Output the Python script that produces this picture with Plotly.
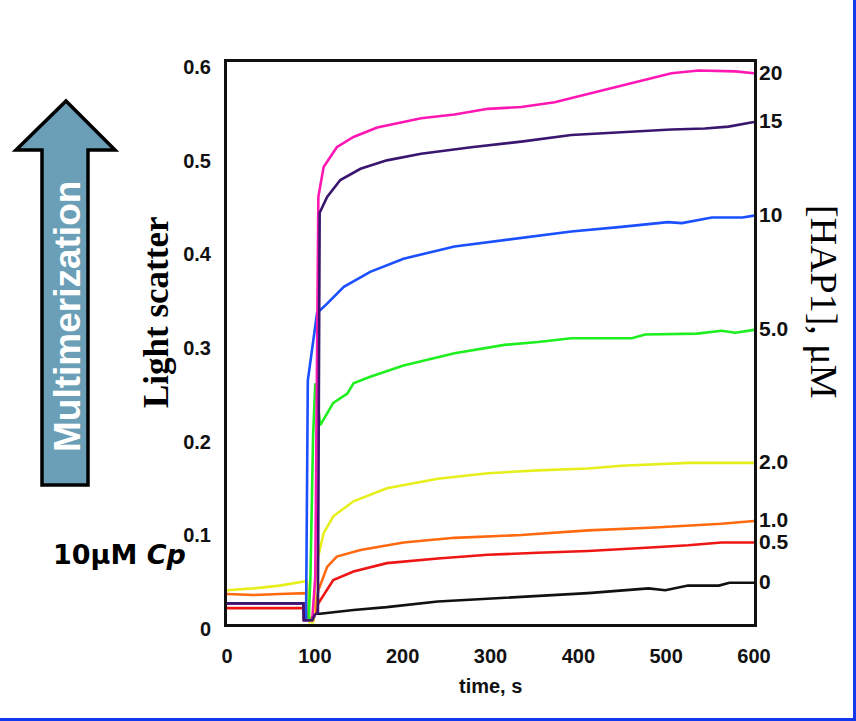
import plotly.graph_objects as go

# ---------------- data ----------------
conc_labels = ["0", "0.5", "1.0", "2.0", "5.0", "10", "15", "20"]
colors = ["#111111", "#ee1515", "#ff6a10", "#e6ef1c", "#1eef1e", "#1a50ff", "#3a1670", "#ff17b4"]

t_0 = [0, 87, 87.5, 95, 100, 106, 144, 182, 240, 297, 335, 354, 411, 480, 499, 525, 560, 572, 600]
v_0 = [0.022, 0.022, 0.005, 0.005, 0.011, 0.011, 0.015, 0.018, 0.024, 0.027, 0.029, 0.030, 0.033, 0.038, 0.036, 0.041, 0.041, 0.044, 0.044]

t_05 = [0, 90, 93, 98, 104, 114, 121, 144, 182, 240, 297, 354, 411, 487, 525, 563, 600]
v_05 = [0.017, 0.017, 0.004, 0.004, 0.022, 0.036, 0.047, 0.056, 0.065, 0.070, 0.074, 0.076, 0.078, 0.082, 0.084, 0.087, 0.087]

t_1 = [0, 30, 60, 90, 93, 98, 104, 114, 125, 152, 201, 259, 335, 411, 487, 563, 600]
v_1 = [0.032, 0.031, 0.032, 0.033, 0.004, 0.004, 0.036, 0.061, 0.072, 0.079, 0.087, 0.092, 0.095, 0.100, 0.103, 0.107, 0.110]

t_2 = [0, 30, 60, 91, 94, 98, 102, 110, 121, 144, 182, 240, 297, 354, 411, 449, 525, 600]
v_2 = [0.036, 0.038, 0.041, 0.046, 0.002, 0.002, 0.065, 0.097, 0.115, 0.131, 0.145, 0.155, 0.161, 0.164, 0.166, 0.169, 0.172, 0.172]

t_5 = [0, 87, 88, 93, 95, 98, 100.5, 103, 106, 121, 137, 144, 163, 201, 259, 316, 354, 392, 461, 476, 535, 563, 579, 600]
v_5 = [0.022, 0.022, 0.004, 0.004, 0.05, 0.2, 0.257, 0.24, 0.212, 0.236, 0.246, 0.257, 0.264, 0.276, 0.289, 0.298, 0.301, 0.305, 0.305, 0.309, 0.310, 0.313, 0.311, 0.314]

t_10 = [0, 87, 88, 90, 92, 102.5, 114, 133, 163, 201, 259, 316, 354, 392, 449, 502, 518, 552, 587, 600]
v_10 = [0.022, 0.022, 0.004, 0.004, 0.26, 0.332, 0.342, 0.360, 0.376, 0.390, 0.403, 0.410, 0.415, 0.419, 0.424, 0.429, 0.428, 0.434, 0.434, 0.436]

t_15 = [0, 87, 87.5, 97, 100, 103.5, 105.5, 114, 129, 152, 182, 221, 278, 335, 392, 449, 506, 544, 571, 600]
v_15 = [0.022, 0.022, 0.004, 0.004, 0.010, 0.012, 0.439, 0.456, 0.474, 0.486, 0.495, 0.502, 0.509, 0.515, 0.522, 0.525, 0.528, 0.529, 0.531, 0.536]

t_20 = [0, 87, 87.5, 97, 100.5, 102.5, 104, 110, 125, 144, 171, 221, 259, 297, 335, 373, 411, 449, 487, 506, 537, 579, 600]
v_20 = [0.022, 0.022, 0.004, 0.004, 0.05, 0.30, 0.456, 0.488, 0.509, 0.520, 0.530, 0.540, 0.544, 0.550, 0.552, 0.557, 0.566, 0.575, 0.584, 0.588, 0.591, 0.590, 0.588]

times = [t_0, t_05, t_1, t_2, t_5, t_10, t_15, t_20]
values = [v_0, v_05, v_1, v_2, v_5, v_10, v_15, v_20]

y_ticks = [0, 0.1, 0.2, 0.3, 0.4, 0.5, 0.6]
y_ticktext = ["0", "0.1", "0.2", "0.3", "0.4", "0.5", "0.6"]
x_ticks = [0, 100, 200, 300, 400, 500, 600]

# ---------------- layout geometry ----------------
W, H = 856, 721
L, R, T, B = 227, 754, 62, 624  # plot area in pixels


def px(x):
    return (x - L) / (R - L)


def py(y):
    return (B - y) / (B - T)


fig = go.Figure()
draw_order = [0, 1, 2, 3, 4, 5, 7, 6]
for i in draw_order:
    fig.add_trace(go.Scatter(x=times[i], y=values[i], mode="lines",
                             line=dict(color=colors[i], width=2.6),
                             showlegend=False, hoverinfo="skip"))

# right-hand concentration labels at curve ends
for i, lab in enumerate(conc_labels):
    fig.add_annotation(x=1, xref="paper", y=values[i][-1], yref="y",
                       text=lab, showarrow=False, xanchor="left", yanchor="middle",
                       xshift=3, yshift=1,
                       font=dict(family="Liberation Sans", size=21, color="#111", weight="bold"))

# axis-ish titles
fig.add_annotation(x=px(490), y=py(686), xref="paper", yref="paper", text="time, s",
                   showarrow=False, xanchor="center", yanchor="middle",
                   font=dict(family="Liberation Sans", size=20, color="#111", weight="bold"))
fig.add_annotation(x=px(156), y=py(313), xref="paper", yref="paper", text="Light scatter",
                   showarrow=False, textangle=-90, xanchor="center", yanchor="middle",
                   font=dict(family="Liberation Serif", size=35, color="#000", weight="bold"))
fig.add_annotation(x=px(824), y=py(302), xref="paper", yref="paper", text="[HAP1], μM",
                   showarrow=False, textangle=90, xanchor="center", yanchor="middle",
                   font=dict(family="Liberation Serif", size=38, color="#000"))
fig.add_annotation(x=px(188), y=py(554), xref="paper", yref="paper", text="10μM <i>Cp</i>",
                   showarrow=False, xanchor="right", yanchor="middle",
                   font=dict(family="DejaVu Sans", size=27, color="#000", weight="bold"))

# arrow
pts = [(66, 101), (115, 150), (88, 150), (88, 485), (42, 485), (42, 150), (16, 150)]
path = "M " + " L ".join(f"{px(a):.5f},{py(b):.5f}" for a, b in pts) + " Z"
fig.add_shape(type="path", path=path, xref="paper", yref="paper",
              fillcolor="#6a9fb7", line=dict(color="#000", width=3.5))
fig.add_annotation(x=px(67), y=py(317), xref="paper", yref="paper", text="Multimerization",
                   showarrow=False, textangle=-90, xanchor="center", yanchor="middle",
                   font=dict(family="Liberation Sans", size=37, color="white", weight="bold"))

# blue slide border (right and bottom)
fig.add_shape(type="line", xref="paper", yref="paper", x0=px(854.5), x1=px(854.5), y0=py(0), y1=py(721),
              line=dict(color="#1238f0", width=3))
fig.add_shape(type="line", xref="paper", yref="paper", x0=px(0), x1=px(856), y0=py(719.5), y1=py(719.5),
              line=dict(color="#1238f0", width=3))

fig.update_layout(
    width=W, height=H,
    margin=dict(l=L, r=W - R, t=T, b=H - B, pad=0),
    paper_bgcolor="white", plot_bgcolor="white",
    showlegend=False,
)
fig.update_xaxes(range=[0, 600], tickvals=x_ticks, ticks="", showgrid=False, zeroline=False,
                 showline=True, mirror=True, linecolor="#111", linewidth=3,
                 ticklabelstandoff=12,
                 tickfont=dict(family="Liberation Sans", size=20, color="#111", weight="bold"))
fig.update_yaxes(range=[0, 0.6], tickvals=y_ticks, ticktext=y_ticktext, ticks="", showgrid=False,
                 zeroline=False, showline=True, mirror=True, linecolor="#111", linewidth=3,
                 ticklabelstandoff=9, ticklabelshift=5,
                 tickfont=dict(family="Liberation Sans", size=20, color="#111", weight="bold"))

fig.write_html("out.html", config={"displayModeBar": False},
               post_script="document.body.style.margin='0';document.body.style.overflow='hidden';")
